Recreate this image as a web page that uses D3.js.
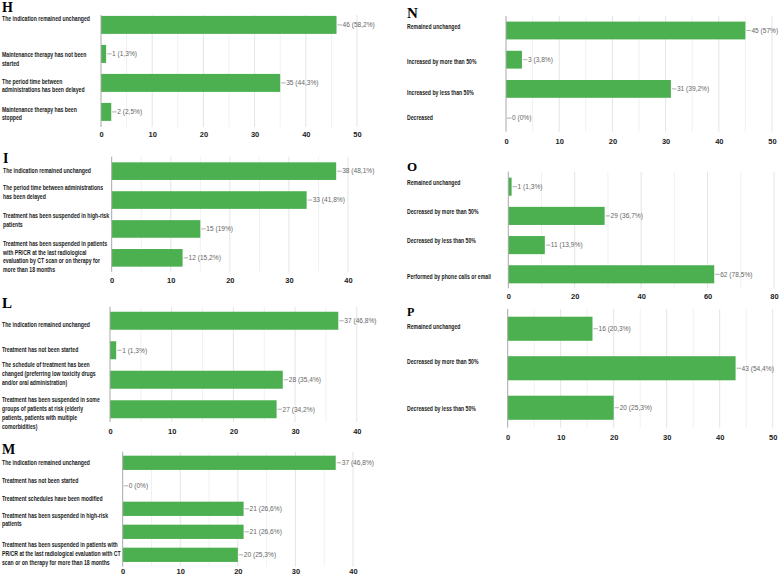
<!DOCTYPE html>
<html><head><meta charset="utf-8">
<script src="https://cdn.jsdelivr.net/npm/d3@7"></script>
<style>body{margin:0;background:#fff}svg{display:block}</style>
</head><body>
<svg id="c" width="779" height="577"></svg>
<script>
// ---------- DATA ----------
const hCategories = ["The indication remained unchanged", "Maintenance therapy has not been\nstarted", "The period time between\nadministrations has been delayed", "Maintenance therapy has been\nstopped"];
const hValues = [46, 1, 35, 2];
const hPercents = ["58,2%", "1,3%", "44,3%", "2,5%"];
const hTicks = [0, 10, 20, 30, 40, 50];

const iCategories = ["The indication remained unchanged", "The period time between administrations\nhas been delayed", "Treatment  has been suspended in high-risk\npatients", "Treatment  has been suspended in patients\nwith PR/CR at the last radiological\nevaluation by CT scan or on therapy for\nmore than 18 months"];
const iValues = [38, 33, 15, 12];
const iPercents = ["48,1%", "41,8%", "19%", "15,2%"];
const iTicks = [0, 10, 20, 30, 40];

const lCategories = ["The indication remained unchanged", "Treatment has not been started", "The schedule of treatment has been\nchanged (preferring low toxicity drugs\nand/or oral administration)", "Treatment has been suspended in some\ngroups of patients at risk (elderly\npatients, patients with multiple\ncomorbidities)"];
const lValues = [37, 1, 28, 27];
const lPercents = ["46,8%", "1,3%", "35,4%", "34,2%"];
const lTicks = [0, 10, 20, 30, 40];

const mCategories = ["The indication remained unchanged", "Treatment  has not been started", "Treatment  schedules have been modified", "Treatment has been suspended in high-risk\npatients", "Treatment  has been suspended in patients with\nPR/CR at the last radiological evaluation with CT\nscan or on therapy for more than 18 months"];
const mValues = [37, 0, 21, 21, 20];
const mPercents = ["46,8%", "0%", "26,6%", "26,6%", "25,3%"];
const mTicks = [0, 10, 20, 30, 40];

const nCategories = ["Remained unchanged", "Increased by more than 50%", "Increased by less than 50%", "Decreased"];
const nValues = [45, 3, 31, 0];
const nPercents = ["57%", "3,8%", "39,2%", "0%"];
const nTicks = [0, 10, 20, 30, 40, 50];

const oCategories = ["Remained unchanged", "Decreased  by more than 50%", "Decreased  by less than 50%", "Performed by phone calls or email"];
const oValues = [1, 29, 11, 62];
const oPercents = ["1,3%", "36,7%", "13,9%", "78,5%"];
const oTicks = [0, 20, 40, 60, 80];

const pCategories = ["Remained unchanged", "Decreased by more than 50%", "Decreased  by less than 50%"];
const pValues = [16, 43, 20];
const pPercents = ["20,3%", "54,4%", "25,3%"];
const pTicks = [0, 10, 20, 30, 40, 50];

// ---------- LAYOUT ----------
const panels = [
  {letter:"H", cats:hCategories, vals:hValues, pcts:hPercents, ticks:hTicks, minor:5,
   lx:2, lb:11.5, ls:14, x0:101, x1:357, bt:10.4, bb:126.4, pad:0.38, gt:15, gb:127, ty:134, shift:[-6,5,3,2]},
  {letter:"I", cats:iCategories, vals:iValues, pcts:iPercents, ticks:iTicks, minor:5,
   lx:3, lb:163.3, ls:14, x0:111.7, x1:348, bt:156.7, bb:272.3, pad:0.39, gt:156.7, gb:271.7, ty:280.7, shift:[0,-7.5,-9,-1]},
  {letter:"L", cats:lCategories, vals:lValues, pcts:lPercents, ticks:lTicks, minor:5,
   lx:2, lb:307.7, ls:15, x0:110, x1:356.8, bt:306, bb:424, pad:0.39, gt:306.7, gb:422, ty:431.7, shift:[4,0,-6,4]},
  {letter:"M", cats:mCategories, vals:mValues, pcts:mPercents, ticks:mTicks, minor:5,
   lx:2, lb:454.3, ls:14, x0:122.7, x1:353, bt:451.3, bb:566.3, pad:0.38, gt:451.7, gb:566.7, ty:571.7, shift:[0.5,-5,-10,-12,-1]},
  {letter:"N", cats:nCategories, vals:nValues, pcts:nPercents, ticks:nTicks, minor:5,
   lx:407, lb:18.3, ls:15, x0:506, x1:772, bt:15.9, bb:132.7, pad:0.39, gt:16, gb:131.7, ty:141.7, shift:[-4,2,4,0]},
  {letter:"O", cats:oCategories, vals:oValues, pcts:oPercents, ticks:oTicks, minor:10,
   lx:407, lb:170.7, ls:13, x0:508.3, x1:774, bt:172.1, bb:288.9, pad:0.38, gt:171.7, gb:288.3, ty:296, shift:[-3.4,-4,-4.3,2]},
  {letter:"P", cats:pCategories, vals:pValues, pcts:pPercents, ticks:pTicks, minor:5,
   lx:407, lb:316, ls:12, x0:507.7, x1:772.7, bt:309, bb:427.5, pad:0.39, gt:309, gb:427.7, ty:437, shift:[-2,-6,1]}
];

const BAR = "#4caf50";
const LABEL_FONT = "'Liberation Sans', Arial, sans-serif";
const LABEL_SIZE = 6.3;
const svg = d3.select("#c");
svg.append("rect").attr("width", 779).attr("height", 577).attr("fill", "#fff");

// horizontal compression so labels match the condensed face of the reference
const probe = svg.append("text").attr("font-family", LABEL_FONT).attr("font-size", LABEL_SIZE)
  .attr("font-weight", "bold").text("The indication remained unchanged");
const probeW = probe.node().getComputedTextLength();
probe.remove();
const SX = probeW > 0 ? 88 / probeW : 0.82;

panels.forEach(p => {
  const g = svg.append("g");
  const tmax = d3.max(p.ticks);
  const x = d3.scaleLinear().domain([0, tmax]).range([p.x0, p.x1]);
  const y = d3.scaleBand().domain(d3.range(p.vals.length)).range([p.bt, p.bb])
              .paddingInner(p.pad).paddingOuter(p.pad / 2);

  const minorTicks = d3.range(0, tmax + 0.001, p.minor);
  g.selectAll(".mg").data(minorTicks.filter(t => !p.ticks.includes(t))).join("line")
    .attr("x1", d => x(d)).attr("x2", d => x(d)).attr("y1", p.gt).attr("y2", p.gb)
    .attr("stroke", "#f1f1f1").attr("stroke-width", 1);
  g.selectAll(".Mg").data(p.ticks.filter(t => t > 0)).join("line")
    .attr("x1", d => x(d)).attr("x2", d => x(d)).attr("y1", p.gt).attr("y2", p.gb)
    .attr("stroke", "#e4e4e4").attr("stroke-width", 1);

  g.selectAll(".bar").data(p.vals).join("rect")
    .attr("x", x(0)).attr("y", (d, i) => y(i))
    .attr("width", d => x(d) - x(0)).attr("height", y.bandwidth())
    .attr("fill", BAR);

  g.append("line").attr("x1", x(0)).attr("x2", x(0)).attr("y1", p.gt).attr("y2", p.gb)
    .attr("stroke", "#a8a8a8").attr("stroke-width", 1);

  p.vals.forEach((v, i) => {
    const cy = y(i) + y.bandwidth() / 2;
    const ex = x(v);
    g.append("line").attr("x1", ex + 1).attr("x2", ex + 5.5).attr("y1", cy).attr("y2", cy)
      .attr("stroke", "#9a9a9a").attr("stroke-width", 0.8);
    g.append("text").attr("x", ex + 6).attr("y", cy).attr("dy", "0.35em")
      .attr("font-family", "'Liberation Sans', Arial, sans-serif").attr("font-size", 6.6)
      .attr("fill", "#666").text(v + " (" + p.pcts[i] + ")");
  });

  const axis = d3.axisBottom(x).tickValues(p.ticks).tickSize(0).tickPadding(0).tickFormat(d3.format("d"));
  const ag = g.append("g").attr("transform", `translate(0,${p.ty})`).call(axis);
  ag.select(".domain").remove();
  ag.selectAll("text").attr("dy", "0.35em").attr("y", 0)
    .attr("font-family", "'Liberation Sans', Arial, sans-serif").attr("font-size", 7.5)
    .attr("font-weight", "bold").attr("fill", "#222");

  g.append("text").attr("x", p.lx).attr("y", p.lb).text(p.letter)
    .attr("font-family", "'Liberation Serif', 'Times New Roman', serif")
    .attr("font-weight", "bold").attr("font-size", p.ls).attr("fill", "#000");

  p.cats.forEach((c, i) => {
    const lines = c.split("\n");
    const cy = y(i) + y.bandwidth() / 2 + p.shift[i];
    const lh = 8.8;
    const t = g.append("text")
      .attr("transform", `translate(${p.lx},0) scale(${SX},1) translate(${-p.lx},0)`)
      .attr("font-family", LABEL_FONT)
      .attr("font-size", LABEL_SIZE).attr("font-weight", "bold").attr("fill", "#1a1a1a");
    lines.forEach((ln, k) => {
      t.append("tspan").attr("x", p.lx).attr("y", cy + (k - (lines.length - 1) / 2) * lh)
        .attr("dy", "0.35em").text(ln);
    });
  });
});
</script>
</body></html>
